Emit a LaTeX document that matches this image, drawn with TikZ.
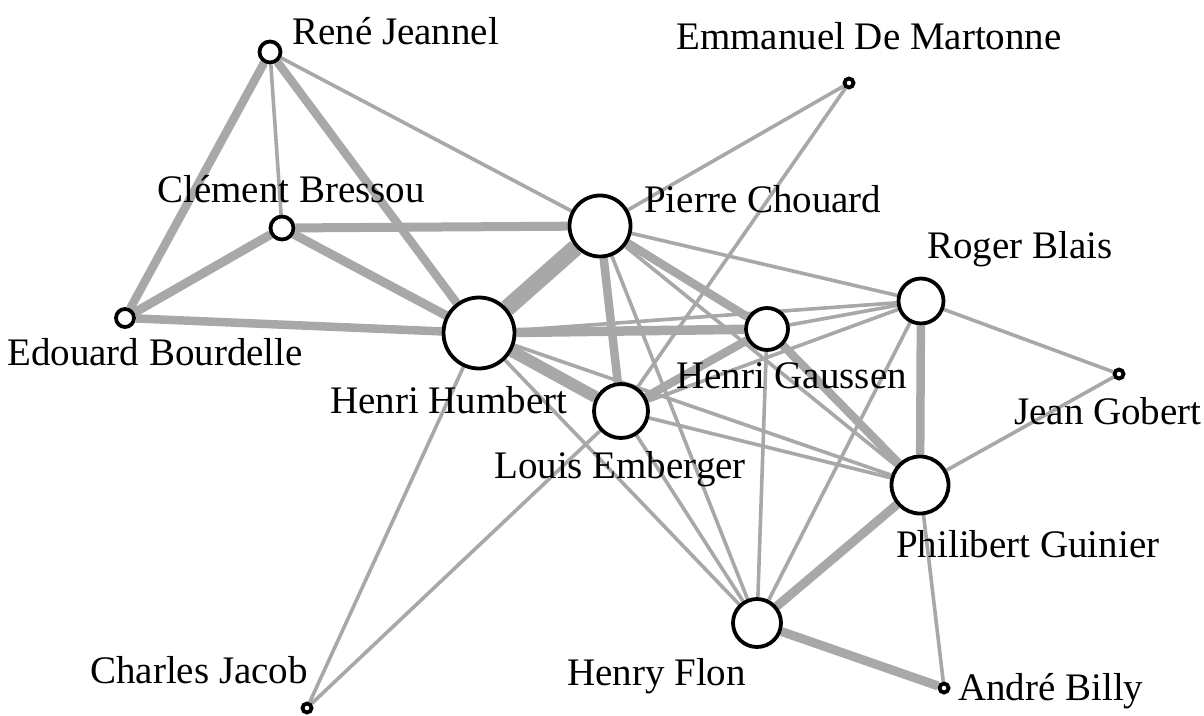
\documentclass[tikz,border=0pt]{standalone}
\usepackage{fontspec}
\setmainfont{Liberation Serif}
\usetikzlibrary{backgrounds}
\definecolor{edgegray}{RGB}{168,168,168}
\begin{document}
\begin{tikzpicture}[x=1pt,y=-1pt,
  vert/.style={circle,draw=black,line width=3.8pt,fill=white,inner sep=0pt,minimum size=#1},
  lbl/.style={anchor=base west,inner sep=0pt,font=\fontsize{39}{40}\selectfont},
  ethin/.style={draw=edgegray,line width=3.6pt},
  ethick/.style={draw=edgegray,line width=8.5pt},
  ewide/.style={draw=edgegray,line width=#1}]
\useasboundingbox (0,0) rectangle (1204,715);
% vertices
\node[vert=21] (RJ) at (270,52) {};
\node[vert=9] (EDM) at (849,83) {};
\node[vert=23] (CB) at (282,228) {};
\node[vert=61] (PC) at (600,226) {};
\node[vert=45] (RB) at (921,301) {};
\node[vert=18] (EB) at (125,318) {};
\node[vert=71] (HH) at (479,333) {};
\node[vert=42] (HG) at (767,329) {};
\node[vert=9] (JG) at (1119,374) {};
\node[vert=54] (LE) at (621,411) {};
\node[vert=57] (PG) at (920,485) {};
\node[vert=48] (HF) at (757,623) {};
\node[vert=9] (CJ) at (307,708) {};
\node[vert=9] (AB) at (944,688) {};
% labels
\node[lbl] (lRJ) at (292,44) {René Jeannel};
\node[lbl] (lEDM) at (676,49) {Emmanuel De Martonne};
\node[lbl] (lCB) at (157,202) {Clément Bressou};
\node[lbl] (lPC) at (644,212) {Pierre Chouard};
\node[lbl] (lRB) at (927,258) {Roger Blais};
\node[lbl] (lEB) at (7,365) {Edouard Bourdelle};
\node[lbl] (lHH) at (330,413) {Henri Humbert};
\node[lbl] (lHG) at (676,388) {Henri Gaussen};
\node[lbl] (lJG) at (1014,424) {Jean Gobert};
\node[lbl] (lLE) at (494,478) {Louis Emberger};
\node[lbl] (lPG) at (896,557) {Philibert Guinier};
\node[lbl] (lHF) at (567,685) {Henry Flon};
\node[lbl] (lCJ) at (90,683) {Charles Jacob};
\node[lbl] (lAB) at (958,700) {André Billy};
% edges
\begin{pgfonlayer}{background}
\draw[ewide=17pt] (HH) -- (PC);
\draw[ewide=12pt] (HH) -- (LE);
\draw[ewide=9.5pt] (HH) -- (HG);
\draw[ewide=9pt] (CB) -- (PC);
\draw[ewide=9pt] (CB) -- (HH);
\draw[ewide=9pt] (CB) -- (EB);
\draw[ethick] (RJ) -- (EB);
\draw[ethick] (RJ) -- (HH);
\draw[ethick] (EB) -- (HH);
\draw[ethick] (PC) -- (LE);
\draw[ethick] (PC) -- (HG);
\draw[ethick] (LE) -- (HG);
\draw[ethick] (HG) -- (PG);
\draw[ethick] (RB) -- (PG);
\draw[ewide=9pt] (PG) -- (HF);
\draw[ewide=9pt] (HF) -- (AB);
\draw[ethin] (RJ) -- (CB);
\draw[ethin] (RJ) -- (PC);
\draw[ethin] (PC) -- (EDM);
\draw[ethin] (EDM) -- (LE);
\draw[ethin] (PC) -- (RB);
\draw[ethin] (PC) -- (PG);
\draw[ethin] (PC) -- (HF);
\draw[ethin] (HH) -- (RB);
\draw[ethin] (HH) -- (PG);
\draw[ethin] (HH) -- (HF);
\draw[ethin] (HH) -- (CJ);
\draw[ethin] (LE) -- (CJ);
\draw[ethin] (LE) -- (HF);
\draw[ethin] (LE) -- (PG);
\draw[ethin] (LE) -- (RB);
\draw[ethin] (HG) -- (RB);
\draw[ethin] (HG) -- (HF);
\draw[ethin] (RB) -- (JG);
\draw[ethin] (RB) -- (HF);
\draw[ethin] (JG) -- (PG);
\draw[ethin] (PG) -- (AB);
\end{pgfonlayer}
\end{tikzpicture}
\end{document}
